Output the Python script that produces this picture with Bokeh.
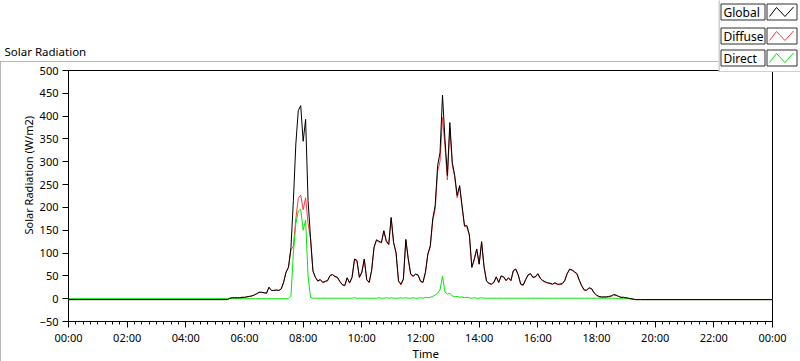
from bokeh.plotting import figure
from bokeh.layouts import column, row
from bokeh.models import Range1d, FixedTicker, Title
from bokeh.core.properties import value
from bokeh.embed import file_html
from bokeh.resources import INLINE

# ---------------- data ----------------
# time of day in minutes (night points + 5-minute samples 05:30..19:30 + end of day)
minutes = [0, 325] + list(range(330, 1171, 5)) + [1440]

global_rad = [
    -2, -2,
    1, 2, 2, 2, 2, 3,
    3, 4, 5, 6, 8, 11, 14, 14, 13, 12, 25, 18,
    18, 19, 18, 21, 36, 58, 69, 112, 215, 339, 412, 423,
    345, 393, 215, 134, 61, 47, 39, 42, 36, 38, 40, 51,
    53, 49, 47, 38, 31, 29, 46, 35, 47, 87, 84, 47,
    58, 87, 42, 36, 62, 113, 129, 126, 123, 149, 127, 119,
    178, 123, 101, 39, 32, 43, 130, 87, 54, 50, 54, 52,
    39, 36, 58, 98, 116, 175, 204, 291, 321, 446, 350, 270,
    386, 299, 270, 226, 248, 204, 160, 160, 140, 69, 87, 109,
    76, 125, 70, 39, 34, 32, 36, 48, 36, 50, 48, 40,
    46, 40, 62, 65, 52, 32, 30, 42, 52, 55, 47, 48,
    55, 45, 40, 37, 35, 34, 32, 35, 32, 32, 33, 40,
    55, 65, 63, 59, 55, 40, 28, 19, 19, 24, 22, 13,
    8, 5, 4, 4, 4, 5, 6, 9, 8, 5, 3, 3,
    2, 1, 0, -1, -2, -2, -2,
    -2,
]

diffuse_rad = [
    -2, -2,
    1, 2, 2, 2, 2, 3,
    3, 4, 5, 6, 8, 11, 14, 14, 13, 12, 25, 18,
    18, 19, 18, 21, 36, 58, 69, 107, 115, 175, 220, 227,
    195, 221, 165, 131, 60, 46, 38, 41, 35, 37, 39, 50,
    52, 48, 46, 37, 30, 28, 45, 34, 46, 85, 83, 46,
    57, 86, 41, 35, 61, 112, 128, 124, 122, 148, 125, 118,
    176, 122, 100, 38, 30, 42, 128, 86, 53, 48, 53, 51,
    37, 35, 55, 96, 113, 170, 196, 279, 301, 397, 335, 260,
    374, 293, 266, 221, 245, 200, 158, 157, 138, 68, 85, 108,
    75, 123, 69, 38, 33, 31, 35, 47, 35, 49, 47, 39,
    45, 39, 61, 64, 51, 31, 29, 41, 51, 54, 46, 47,
    54, 44, 39, 36, 34, 33, 31, 34, 31, 31, 32, 39,
    54, 64, 62, 58, 54, 39, 27, 18, 18, 23, 21, 12,
    7, 4, 3, 3, 3, 4, 5, 8, 7, 5, 3, 3,
    2, 1, 0, -1, -2, -2, -2,
    -2,
]

direct_rad = [
    0, 0,
    0, 0, 0, 0, 0, 0,
    0, 0, 0, 0, 0, 0, 0, 0, 0, 0, 0, 0,
    0, 0, 0, 0, 0, 0, 0, 5, 100, 164, 192, 196,
    150, 172, 50, 3, 1, 1, 1, 1, 1, 1, 1, 1,
    1, 1, 1, 1, 1, 1, 1, 1, 1, 2, 1, 1,
    1, 1, 1, 1, 1, 1, 1, 2, 1, 1, 2, 1,
    2, 1, 1, 1, 2, 1, 2, 1, 1, 2, 1, 1,
    2, 1, 3, 2, 3, 5, 8, 12, 20, 49, 15, 10,
    12, 6, 4, 5, 3, 4, 2, 3, 2, 1, 2, 1,
    1, 2, 1, 1, 1, 1, 1, 1, 1, 1, 1, 1,
    1, 1, 1, 1, 1, 1, 1, 1, 1, 1, 1, 1,
    1, 1, 1, 1, 1, 1, 1, 1, 1, 1, 1, 1,
    1, 1, 1, 1, 1, 1, 1, 1, 1, 1, 1, 1,
    1, 1, 1, 1, 1, 1, 1, 1, 1, 0, 0, 0,
    0, 0, -1, -1, -2, -2, -2,
    -2,
]

series_names = ["Global", "Diffuse", "Direct"]
series_colors = ["#000000", "#ff3c3c", "#00e800"]

x_tick_hours = [0, 2, 4, 6, 8, 10, 12, 14, 16, 18, 20, 22, 24]
x_tick_labels = ["00:00", "02:00", "04:00", "06:00", "08:00", "10:00", "12:00",
                 "14:00", "16:00", "18:00", "20:00", "22:00", "00:00"]
y_ticks = [-50, 0, 50, 100, 150, 200, 250, 300, 350, 400, 450, 500]

title_text = "Solar Radiation"
x_label = "Time"
y_label = "Solar Radiation (W/m2)"

FONT = "Noto Sans"
BORDER_GRAY = "#a0a0a0"

hours = [m / 60 for m in minutes]


def blank_fig(w, h):
    f = figure(width=w, height=h, output_backend="svg", toolbar_location=None,
               x_range=Range1d(0, w), y_range=Range1d(h, 0),
               x_axis_type=None, y_axis_type=None,
               min_border_left=0, min_border_right=0, min_border_top=0, min_border_bottom=0,
               background_fill_color="white", border_fill_color="white")
    f.outline_line_color = None
    f.grid.visible = False
    return f


# ---------------- header (title) ----------------
HW, HH = 718, 61
header = blank_fig(HW, HH)
header.text(x=[4], y=[51], text=[title_text], text_font=value(FONT),
            text_font_size=value("11.5px"), text_color="black",
            text_align="left", text_baseline="middle")

# ---------------- legend ----------------
LW, LH = 82, 72
leg = blank_fig(LW, LH)
leg.quad(left=[0.5], right=[LW + 5], top=[-5], bottom=[71.5],
         fill_color="white", line_color=BORDER_GRAY, line_width=1)
row_tops = [3.5, 27.5, 49.5]
box_h = 16
leg.quad(left=[2.5] * 3, right=[46.5] * 3, top=row_tops, bottom=[t + box_h for t in row_tops],
         fill_color="#fcfcfc", line_color="#303030", line_width=1)
leg.quad(left=[48.5] * 3, right=[78.5] * 3, top=row_tops, bottom=[t + box_h for t in row_tops],
         fill_color="white", line_color="#303030", line_width=1)
leg.text(x=[5] * 3, y=[t + 8.5 for t in row_tops], text=series_names, text_font=value(FONT),
         text_font_size=value("12px"), text_color="black",
         text_align="left", text_baseline="middle")
zig_dx = [51, 58, 66.5, 75]
zig_dy = [12.5, 3.5, 12.5, 3]
leg.multi_line(xs=[zig_dx] * 3, ys=[[t + d for d in zig_dy] for t in row_tops],
               line_color=series_colors, line_width=1)

# ---------------- main chart ----------------
MW, MH = 800, 300
p = figure(width=MW, height=MH, output_backend="svg", toolbar_location=None,
           x_range=Range1d(0, 24), y_range=Range1d(-50, 500),
           min_border_left=68, min_border_right=28, min_border_top=9, min_border_bottom=39,
           background_fill_color="white", border_fill_color="white")
p.outline_line_color = "black"
p.outline_line_width = 1
p.grid.visible = False

xa = p.xaxis[0]
xa.ticker = FixedTicker(ticks=x_tick_hours, minor_ticks=[i * 0.25 for i in range(97)])
xa.major_label_overrides = {h: lab for h, lab in zip(x_tick_hours, x_tick_labels)}
xa.axis_line_color = None
xa.major_tick_in = 0
xa.major_tick_out = 6
xa.minor_tick_in = 0
xa.minor_tick_out = 3
xa.major_tick_line_color = "black"
xa.minor_tick_line_color = "black"
xa.major_label_standoff = 2
xa.major_label_text_font = FONT
xa.major_label_text_font_size = "11px"
xa.major_label_text_color = "black"

ya = p.yaxis[0]
ya.ticker = FixedTicker(ticks=y_ticks, minor_ticks=[])
ya.axis_line_color = None
ya.major_tick_in = 0
ya.major_tick_out = 6
ya.major_tick_line_color = "black"
ya.major_label_standoff = 4
ya.major_label_text_font = FONT
ya.major_label_text_font_size = "11px"
ya.major_label_text_color = "black"

# axis titles placed as side-panel titles so they can be offset like the original
p.add_layout(Title(text=y_label, align="left", offset=87, standoff=2,
                   text_font=FONT, text_font_size="11px", text_font_style="normal",
                   text_color="black"), "left")
p.add_layout(Title(text=x_label, align="left", offset=344, standoff=-3,
                   vertical_align="top",
                   text_font=FONT, text_font_size="11.5px", text_font_style="normal",
                   text_color="black"), "below")

# series lines (diffuse under, global on top)
p.line(hours, diffuse_rad, line_color=series_colors[1], line_width=1)
p.line(hours, direct_rad, line_color=series_colors[2], line_width=1)
p.line(hours, global_rad, line_color=series_colors[0], line_width=1)

# panel frame (grey) and overlap of the legend box onto the chart panel
p.margin = (-11, 0, 0, 0)
p.styles = {"outline": "1px solid " + BORDER_GRAY, "outline-offset": "-1px"}

top_row = row(header, leg, spacing=0)
top_row.styles = {"position": "relative", "z-index": "2"}

layout = column(top_row, p, spacing=0)

open("out.html", "w").write(file_html(layout, INLINE))
